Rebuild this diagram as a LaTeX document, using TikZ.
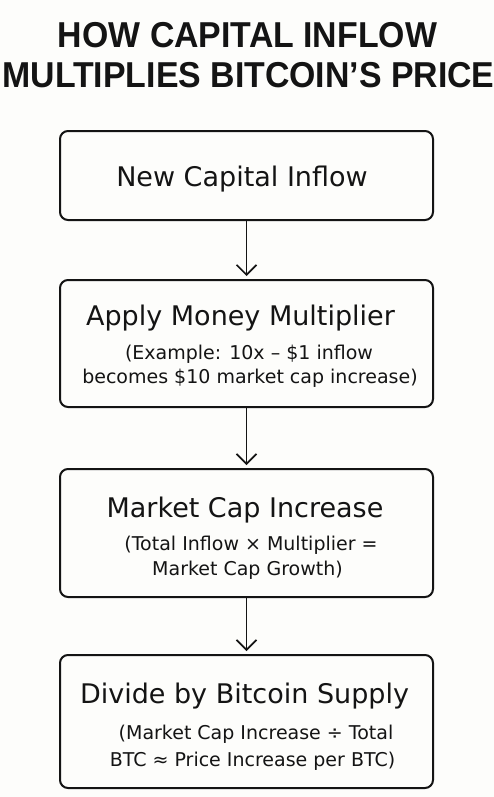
\documentclass[tikz,border=0pt]{standalone}
\usepackage{fontspec}
\setmainfont{DejaVu Sans}
\newfontfamily\titlefont{Liberation Sans}[FakeStretch=0.94]
\usetikzlibrary{arrows.meta}
\definecolor{ink}{HTML}{141414}
\definecolor{paper}{HTML}{FDFDFB}
\tikzset{
  stepbox/.style={draw=ink, line width=2pt, rounded corners=8pt, minimum width=373pt, inner sep=0pt},
  titletxt/.style={anchor=base, text=ink, inner sep=0pt, font=\titlefont\fontsize{36}{40}\selectfont\bfseries},
  maintxt/.style={anchor=base, text=ink, inner sep=0pt, font=\fontsize{27}{30}\selectfont},
  subtxt/.style={anchor=base, text=ink, inner sep=0pt, font=\fontsize{19}{22}\selectfont},
  flow/.style={draw=ink, line width=1.6pt, -{Straight Barb[length=10pt,width=20pt,line width=1.6pt]}, shorten >=3pt},
}
\begin{document}
\begin{tikzpicture}[x=1pt,y=-1pt]
\fill[paper] (0,0) rectangle (494,797);
\useasboundingbox (0,0) rectangle (494,797);
% title
\node[titletxt] (t1) at (247.5,48) {HOW CAPITAL INFLOW};
\node[titletxt] (t2) at (248.5,88) {MULTIPLIES BITCOIN’S PRICE};
% boxes
\node[stepbox, minimum height=89pt] (b1) at (246.5,175.5) {};
\node[stepbox, minimum height=127pt] (b2) at (246.5,343.5) {};
\node[stepbox, minimum height=128pt] (b3) at (246.5,533) {};
\node[stepbox, minimum height=133pt] (b4) at (246.5,721.5) {};
% texts
\node[maintxt] (m1) at (242,186) {New Capital Inflow};
\node[maintxt] (m2) at (240.5,325) {Apply Money Multiplier};
\node[subtxt] (s21) at (249,359) {(Example: 10x – \$1 inflow};
\node[subtxt] (s22) at (250,383) {becomes \$10 market cap increase)};
\node[maintxt] (m3) at (245,517) {Market Cap Increase};
\node[subtxt] (s31) at (251,550) {(Total Inflow × Multiplier =};
\node[subtxt] (s32) at (247.5,575) {Market Cap Growth)};
\node[maintxt] (m4) at (244.5,703) {Divide by Bitcoin Supply};
\node[subtxt] (s41) at (256,739) {(Market Cap Increase ÷ Total};
\node[subtxt] (s42) at (252.5,766) {BTC ≈ Price Increase per BTC)};
% arrows
\draw[flow] (b1.south) -- (b2.north);
\draw[flow] (b2.south) -- (b3.north);
\draw[flow] (b3.south) -- (b4.north);
\end{tikzpicture}
\end{document}
